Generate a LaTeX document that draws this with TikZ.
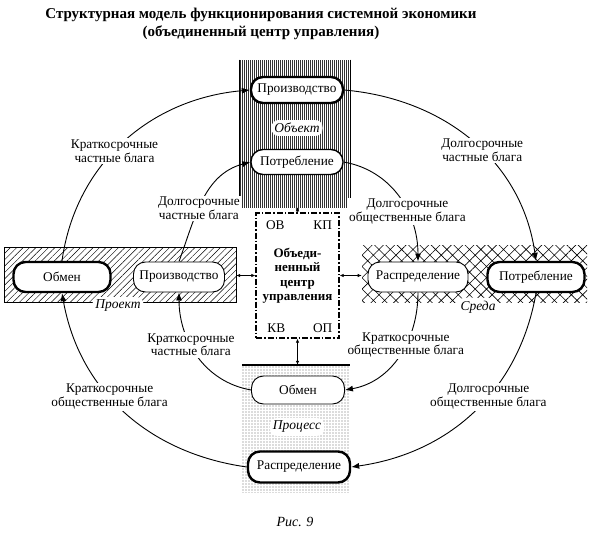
\documentclass[tikz,border=0pt]{standalone}
\usepackage{fontspec}
\setmainfont{Liberation Serif}
\usetikzlibrary{positioning, calc, arrows.meta, patterns.meta}

\begin{document}
\begin{tikzpicture}[x=1pt,y=1pt,
    every node/.style={font=\fontsize{13.3}{15}\selectfont},
    unit/.style={draw, fill=white, rounded corners=12pt, line width=0.9pt, inner sep=2pt},
    keyunit/.style={unit, line width=2.4pt},
    flow/.style={-{Latex[length=8pt,width=6pt]}, line width=0.9pt},
    ctl/.style={{Latex[length=4pt,width=3.5pt]}-{Latex[length=4pt,width=3.5pt]}, line width=0.7pt},
    lbl/.style={fill=white, align=center, inner sep=1.5pt, font=\fontsize{13.3}{13.5}\selectfont},
    tag/.style={fill=white, rounded corners=7pt, inner sep=3pt, font=\itshape\fontsize{13.5}{15}\selectfont},
    panel/.style={inner sep=0pt}]
  \useasboundingbox (0,0) rectangle (590,-538);
  % title and caption
  \node[font=\bfseries\fontsize{15}{18}\selectfont, align=center] (title) at (261,-24)
    {Структурная модель функционирования системной экономики\\(объединенный центр управления)};
  \node[font=\itshape\fontsize{14}{16}\selectfont] (cap) at (295,-522) {Рис. 9};
  % the four fields
  \node[panel, minimum width=110pt, minimum height=147pt, pattern color=black!80,
        pattern={Lines[angle=90,distance=2pt,line width=0.7pt]}] (object) at (295,-133.5) {};
  \draw[line width=1.6pt] (object.north west) -- (object.south west) (object.north east) -- (object.south east);
  \node[panel, draw, line width=1pt, minimum width=232pt, minimum height=55pt,
        pattern={Lines[angle=45,distance=4.5pt,line width=0.45pt]}] (project) at (120,-274.5) {};
  \node[panel, minimum width=225pt, minimum height=57pt,
        pattern={Hatch[angle=45,distance=8pt,line width=0.6pt]}] (sreda) at (474.5,-273.5) {};
  \node[panel, minimum width=108pt, minimum height=127pt, pattern color=black!60,
        pattern={Dots[distance=3pt,radius=0.55pt]}] (process) at (296,-428.5) {};
  \draw[line width=1.6pt] (process.north west) -- (process.north east);
  \node[tag] (objtag) at (297,-128) {Объект};
  \node[tag] (prjtag) at (118,-306) {Проект};
  \node[tag] (sretag) at (478,-307) {Среда};
  \node[tag] (prctag) at (297,-427) {Процесс};
  % units
  \node[keyunit, minimum width=92pt, minimum height=26pt] (oprod) at (297,-90) {Производство};
  \node[unit, line width=1.4pt, minimum width=92pt, minimum height=25pt] (opotr) at (297,-162) {Потребление};
  \node[keyunit, minimum width=97pt, minimum height=30pt] (lobmen) at (62,-277) {Обмен};
  \node[unit, minimum width=91pt, minimum height=30pt] (lprod) at (179,-277) {Производство};
  \node[unit, minimum width=100pt, minimum height=30pt] (rrasp) at (418,-277) {Распределение};
  \node[keyunit, minimum width=97pt, minimum height=30pt] (rpotr) at (536,-277) {Потребление};
  \node[unit, minimum width=93pt, minimum height=28pt] (bobmen) at (298,-390) {Обмен};
  \node[keyunit, minimum width=102pt, minimum height=31pt] (brasp) at (299,-467) {Распределение};
  % centre
  \node[draw, fill=white, line width=1.3pt, dash pattern=on 6pt off 2pt on 1.5pt off 2pt,
        minimum width=83pt, minimum height=125pt, align=center,
        font=\bfseries\fontsize{13}{14.5}\selectfont] (ctr) at (297.5,-275.5)
    {Объеди-\\ненный\\центр\\управления};
  \node (ov) at ($(ctr.north west)+(20,-13)$) {ОВ};
  \node (kp) at ($(ctr.north east)+(-17,-13)$) {КП};
  \node (kv) at ($(ctr.south west)+(21,10)$) {КВ};
  \node (op) at ($(ctr.south east)+(-17,10)$) {ОП};
  \draw[ctl] (ctr.north) -- (ctr.north |- object.south);
  \draw[ctl] (ctr.west) -- (ctr.west -| project.east);
  \draw[ctl] (ctr.east) -- (ctr.east -| sreda.west);
  \draw[ctl] (ctr.south) -- (ctr.south |- process.north);
  % outer ring
  \draw[flow] (lobmen.north) to[out=82,in=185] node[lbl, pos=0.45] {Краткосрочные\\частные блага} (oprod.west);
  \draw[flow] (oprod.east) to[out=-5,in=98] node[lbl, pos=0.55] {Долгосрочные\\частные блага} (rpotr.north);
  \draw[flow] (rpotr.south) to[out=-100,in=8] node[lbl, pos=0.42] {Долгосрочные\\общественные блага} (brasp.east);
  \draw[flow] (brasp.west) to[out=172,in=-80] node[lbl, pos=0.58] {Краткосрочные\\общественные блага} (lobmen.south);
  % inner ring
  \draw[flow] (lprod.north) to[out=70,in=195] node[lbl, pos=0.42] {Долгосрочные\\частные блага} (opotr.west);
  \draw[flow] (opotr.east) to[out=-10,in=90] node[lbl, pos=0.63] {Долгосрочные\\общественные блага} (rrasp.north);
  \draw[flow] (rrasp.south) to[out=-90,in=10] node[lbl, pos=0.4] {Краткосрочные\\общественные блага} (bobmen.east);
  \draw[flow] (bobmen.west) to[out=170,in=-90] node[lbl, pos=0.6] {Краткосрочные\\частные блага} (lprod.south);
\end{tikzpicture}
\end{document}
